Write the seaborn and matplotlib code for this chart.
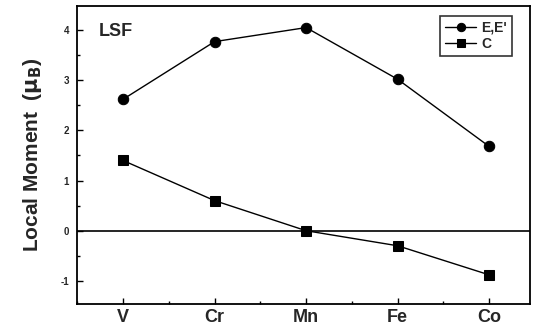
import matplotlib
matplotlib.use("Agg")
import matplotlib.pyplot as plt
import seaborn as sns
import pandas as pd
from matplotlib.ticker import MultipleLocator

# data
elements = ["V", "Cr", "Mn", "Fe", "Co"]
moment_e = [2.62, 3.77, 4.05, 3.02, 1.68]
moment_c = [1.40, 0.60, 0.00, -0.30, -0.88]

sns.set_theme(style="ticks")
plt.rcParams["font.family"] = ["Liberation Sans", "DejaVu Sans"]
plt.rcParams["font.weight"] = "bold"
plt.rcParams["axes.unicode_minus"] = False

df = pd.DataFrame({
    "x": list(range(len(elements))) * 2,
    "moment": moment_e + moment_c,
    "site": ["E,E'"] * len(elements) + ["C"] * len(elements),
})

fig, ax = plt.subplots(figsize=(5.33, 3.34), dpi=100)
sns.lineplot(data=df, x="x", y="moment", hue="site", style="site",
             markers={"E,E'": "o", "C": "s"}, dashes=False,
             palette={"E,E'": "black", "C": "black"},
             markersize=7.5, linewidth=1, markeredgecolor="black", ax=ax)

ax.axhline(0, color="black", linewidth=1.2)
ax.set_xlim(-0.5, 4.45)
ax.set_ylim(-1.46, 4.48)
ax.set_xticks(range(len(elements)))
ax.set_xticklabels(elements, fontsize=13, fontweight="bold")
ax.xaxis.set_minor_locator(MultipleLocator(0.5))
ax.yaxis.set_major_locator(MultipleLocator(1))
ax.yaxis.set_minor_locator(MultipleLocator(0.5))
ax.tick_params(which="both", direction="in", top=False, right=False, color="black")
ax.tick_params(which="major", length=4, width=1)
ax.tick_params(which="minor", length=2.5, width=1)
ax.tick_params(axis="y", labelsize=7, pad=6)
for lab in ax.get_yticklabels():
    lab.set_fontweight("bold")
for s in ax.spines.values():
    s.set_linewidth(1.3)
    s.set_color("black")

ax.set_xlabel("")
ax.set_ylabel(r"Local Moment  ($\mathbf{\mu_B}$)", fontsize=15, fontweight="bold",
              labelpad=12)
ax.text(-0.27, 3.98, "LSF", fontsize=13, fontweight="bold", va="center", ha="left")

leg = ax.legend(title=None, loc="upper right", frameon=True, fancybox=False,
                edgecolor="black", fontsize=10, handlelength=2.2,
                markerscale=0.8, borderpad=0.35, labelspacing=0.15,
                handletextpad=0.4, bbox_to_anchor=(0.975, 0.99))
leg.get_frame().set_linewidth(1.2)

plt.subplots_adjust(left=0.145, right=0.995, top=0.982, bottom=0.09)
fig.savefig("out.png", dpi=100)
